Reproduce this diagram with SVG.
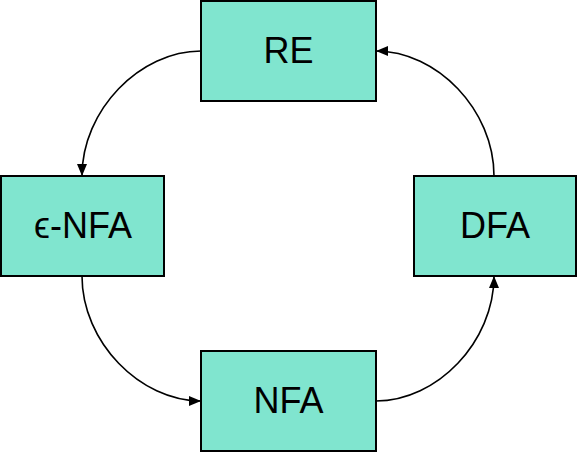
<svg xmlns="http://www.w3.org/2000/svg" width="577" height="452" viewBox="0 0 577 452">
<defs>
<style>
.box{fill:#80e5cf;stroke:#000;stroke-width:2}
.lbl{font-family:"Liberation Sans",Arial,sans-serif;font-size:36px;fill:#000;text-anchor:middle}
.conn{fill:none;stroke:#000;stroke-width:1.6}
</style>
<marker id="ah" viewBox="0 0 12 10" refX="12" refY="5" markerWidth="12" markerHeight="10" markerUnits="userSpaceOnUse" orient="auto">
<path d="M0,0 L12,5 L0,10 Z" fill="#000"/>
</marker>
</defs>
<rect width="577" height="452" fill="#fff"/>
<g id="connectors">
<path class="conn" d="M201,51 C140,51 82,110 82,176" marker-end="url(#ah)"/>
<path class="conn" d="M82,276 C82,342 140,401 201,401" marker-end="url(#ah)"/>
<path class="conn" d="M376,401 C437,401 494,342 494,276" marker-end="url(#ah)"/>
<path class="conn" d="M494,176 C494,110 437,51 376,51" marker-end="url(#ah)"/>
</g>
<g id="RE">
<rect class="box" x="201" y="1" width="175" height="100"/>
<text class="lbl" x="288.5" y="63">RE</text>
</g>
<g id="eNFA">
<rect class="box" x="1" y="176" width="163" height="100"/>
<text class="lbl" x="83" y="238">ϵ-NFA</text>
</g>
<g id="DFA">
<rect class="box" x="414" y="176" width="162" height="100"/>
<text class="lbl" x="495" y="238">DFA</text>
</g>
<g id="NFA">
<rect class="box" x="201" y="351" width="175" height="100"/>
<text class="lbl" x="288.5" y="413">NFA</text>
</g>
</svg>
